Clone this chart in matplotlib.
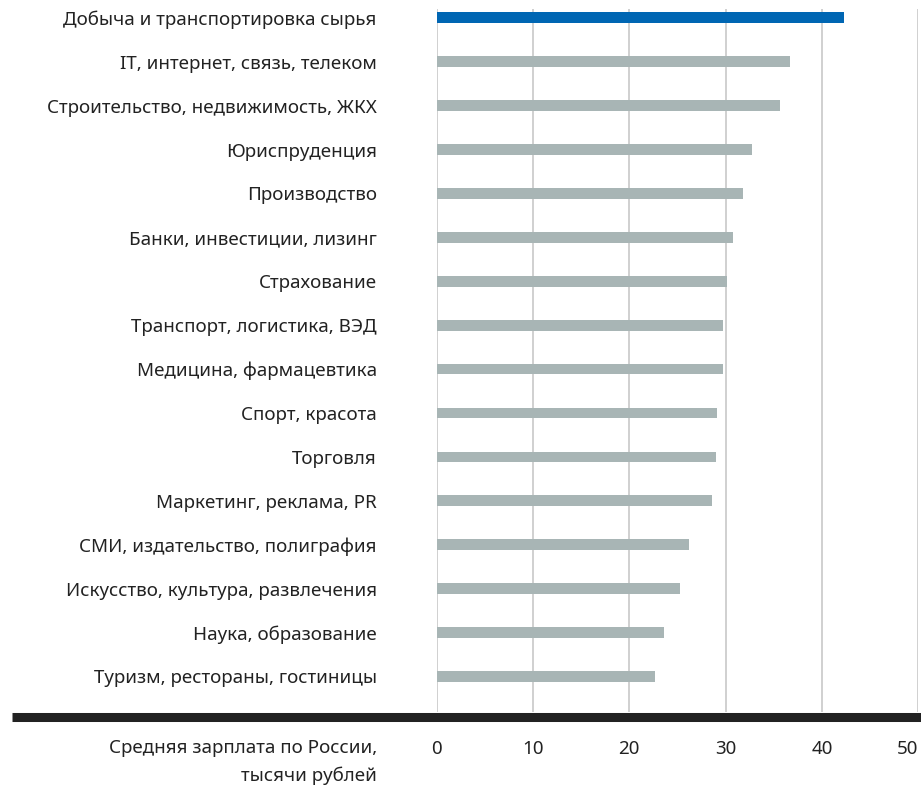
import matplotlib
matplotlib.use("Agg")
import matplotlib.pyplot as plt
from matplotlib.lines import Line2D

plt.rcParams['font.family'] = ['Noto Sans', 'DejaVu Sans']

categories = [
    "Добыча и транспортировка сырья",
    "IT, интернет, связь, телеком",
    "Строительство, недвижимость, ЖКХ",
    "Юриспруденция",
    "Производство",
    "Банки, инвестиции, лизинг",
    "Страхование",
    "Транспорт, логистика, ВЭД",
    "Медицина, фармацевтика",
    "Спорт, красота",
    "Торговля",
    "Маркетинг, реклама, PR",
    "СМИ, издательство, полиграфия",
    "Искусство, культура, развлечения",
    "Наука, образование",
    "Туризм, рестораны, гостиницы",
]
salaries = [42.3, 36.7, 35.6, 32.7, 31.8, 30.8, 30.2, 29.7, 29.7, 29.1, 29.0, 28.6, 26.2, 25.3, 23.6, 22.7]
xticks = [0, 10, 20, 30, 40, 50]
axis_title = ["Средняя зарплата по России,", "тысячи рублей"]

highlight = "#0066b3"
grey = "#a8b5b5"
text_color = "#222222"
fs = 13.5

fig = plt.figure(figsize=(9.21, 7.85), dpi=100)
ax = fig.add_axes([0.474, 0.093, 0.523, 0.8955])

ypos = list(range(len(categories)))
colors = [highlight] + [grey] * (len(categories) - 1)
ax.barh(ypos, salaries, height=0.244, color=colors, zorder=3)

ax.set_xlim(0, 50)
ax.set_ylim(15.81, -0.2)
ax.set_xticks(xticks)
ax.set_xticklabels([str(t) for t in xticks], fontsize=fs, color=text_color, fontweight='light')
ax.set_yticks(ypos)
ax.set_yticklabels(categories, fontsize=fs, color=text_color, fontweight='light')
ax.tick_params(axis='y', length=0, pad=43)
ax.tick_params(axis='x', length=0, pad=20)
ax.get_xticklabels()[-1].set_horizontalalignment('right')
ax.grid(axis='x', color='#d0d0d0', linewidth=1.4, zorder=0)
ax.grid(axis='y', visible=False)
for s in ax.spines.values():
    s.set_visible(False)

# thick baseline across the figure
fig.add_artist(Line2D([12 / 921, 1.0], [0.086, 0.086], transform=fig.transFigure,
                      color=text_color, linewidth=6.5, solid_capstyle='butt'))

for i, line in enumerate(axis_title):
    fig.text(377 / 921, 1 - (748 + 28 * i) / 785, line, ha='right', va='center',
             fontsize=fs, color=text_color, fontweight='light')

fig.savefig("out.png", dpi=100)
